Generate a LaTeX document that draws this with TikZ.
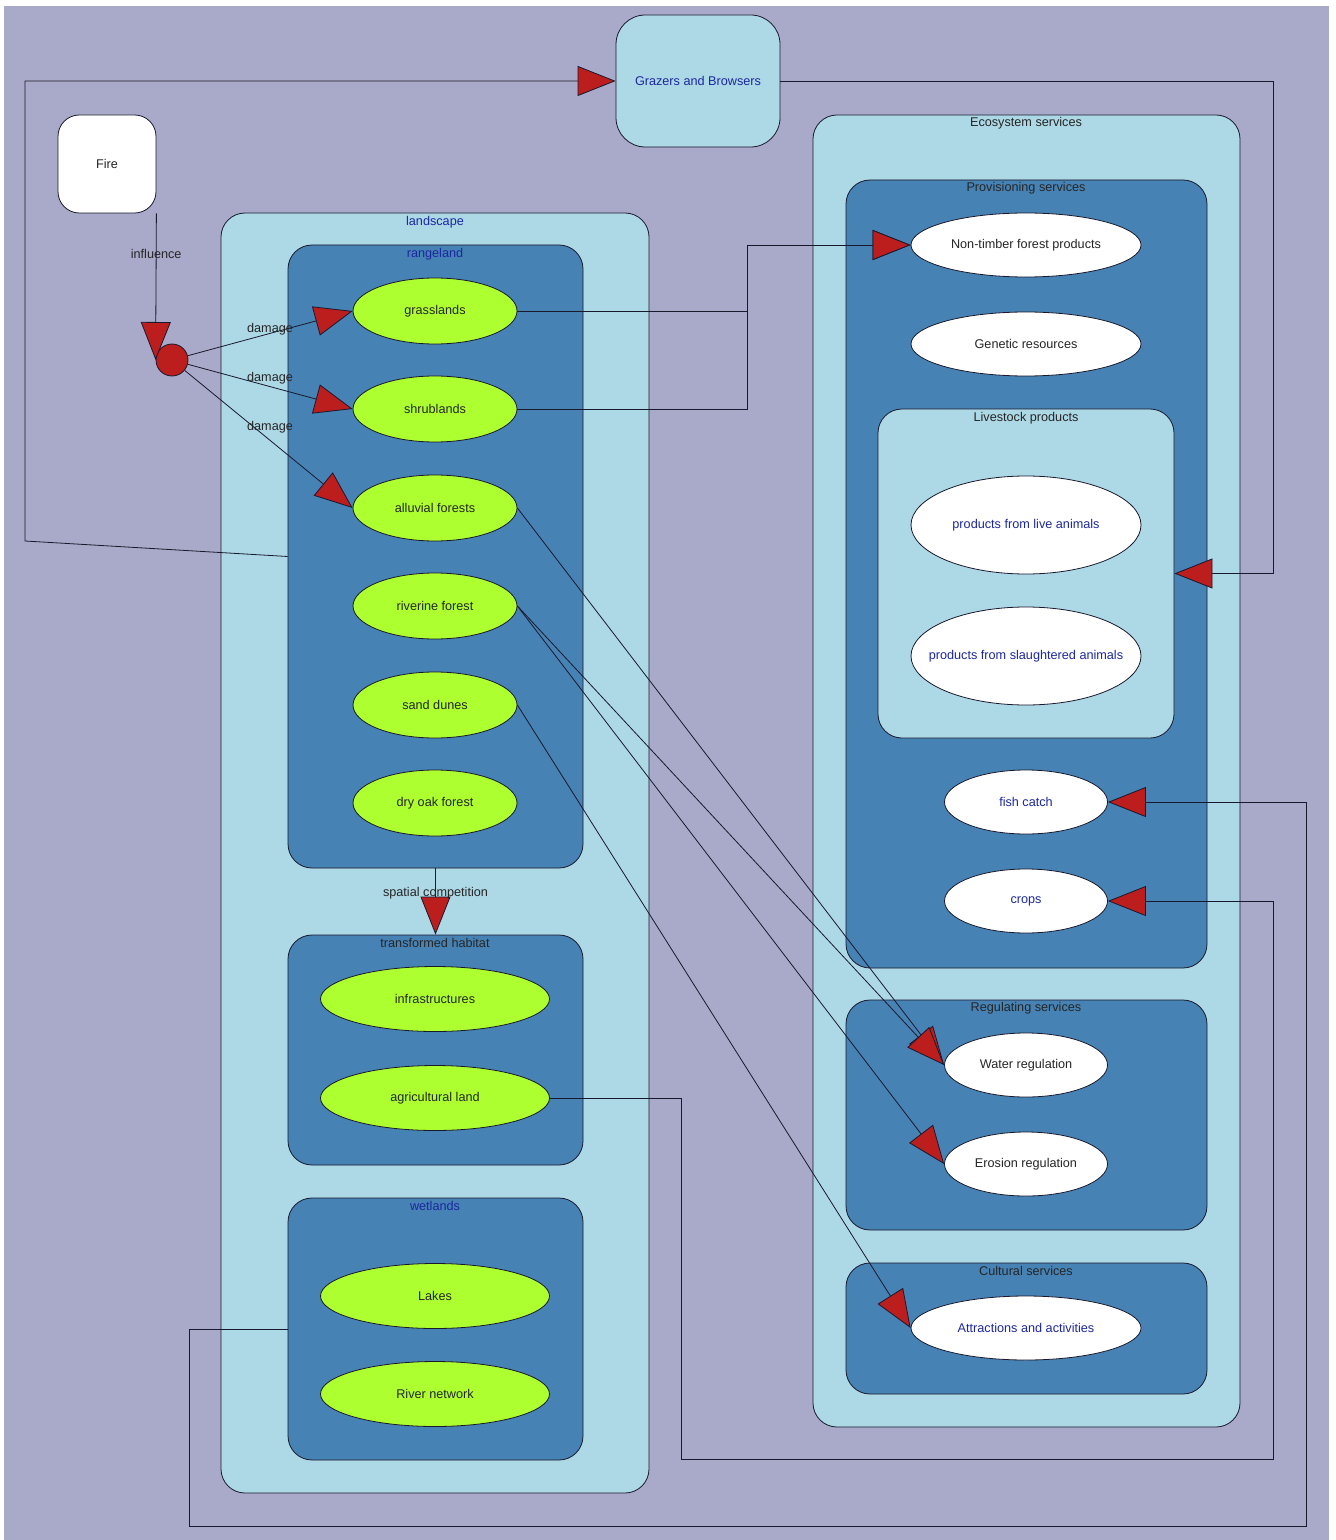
\documentclass[tikz,border=0pt]{standalone}
\usepackage{fontspec}
\setmainfont{Liberation Sans}
\usetikzlibrary{arrows.meta,shapes.geometric,fit}
\definecolor{bglav}{RGB}{169,169,201}
\definecolor{lblue}{RGB}{173,216,230}
\definecolor{steel}{RGB}{70,130,180}
\definecolor{gyell}{RGB}{173,255,47}
\definecolor{arrred}{RGB}{188,30,30}
\definecolor{tblue}{RGB}{28,40,160}
\definecolor{linec}{RGB}{25,25,45}
\begin{document}
\begin{tikzpicture}[x=0.75pt,y=-0.75pt,
  every node/.style={font=\fontsize{9.5}{11}\selectfont, text=black!85},
  box/.style={draw=linec, line width=0.6pt, rounded corners=18pt, inner sep=0pt},
  outerbox/.style={box, fill=lblue},
  innerbox/.style={box, fill=steel},
  ell/.style={ellipse, draw=linec, line width=0.6pt, inner sep=0pt},
  gell/.style={ell, fill=gyell},
  well/.style={ell, fill=white},
  rsize/.style={minimum width=123pt, minimum height=49.5pt},
  wsize/.style={minimum width=171.75pt, minimum height=48.75pt},
  bsize/.style={minimum width=172.5pt, minimum height=48pt},
  tsize/.style={minimum width=172.5pt, minimum height=73.5pt},
  ssize/.style={minimum width=122.25pt, minimum height=48pt},
  bt/.style={text=tblue},
  conn/.style={draw=linec, line width=0.6pt},
  arr/.style={conn, -{Triangle[width=22.5pt,length=28.5pt,fill=arrred]}}]
\useasboundingbox (0,0) rectangle (1335,1540);
\fill[white] (0,0) rectangle (1335,1540);
\fill[bglav] (4,6) rectangle (1329,1540);

% containers
\node[outerbox, fit={(221,213)(649,1493)}] (landscape) {};
\node[innerbox, fit={(288,245)(583,868)}] (rangeland) {};
\node[innerbox, fit={(288,935)(583,1165)}] (transformed) {};
\node[innerbox, fit={(288,1198)(583,1460)}] (wetlands) {};
\node[outerbox, fit={(813,115)(1240,1427)}] (ecosys) {};
\node[innerbox, fit={(846,180)(1207,968)}] (prov) {};
\node[outerbox, fit={(878,409)(1174,738)}] (livestock) {};
\node[innerbox, fit={(846,1000)(1207,1230)}] (regul) {};
\node[innerbox, fit={(846,1263)(1207,1394)}] (cult) {};

% container titles
\node[bt] (landscape-t) at (435,222) {landscape};
\node[bt] (rangeland-t) at (435,254) {rangeland};
\node (transformed-t) at (435,943) {transformed habitat};
\node[bt] (wetlands-t) at (435,1206) {wetlands};
\node (ecosys-t) at (1026,123) {Ecosystem services};
\node (prov-t) at (1026,188) {Provisioning services};
\node (livestock-t) at (1026,418) {Livestock products};
\node (regul-t) at (1026,1008) {Regulating services};
\node (cult-t) at (1026,1271) {Cultural services};

% standalone nodes
\node[draw=linec, line width=0.6pt, fill=white, rounded corners=16pt, minimum width=73.5pt, minimum height=73.5pt, inner sep=0pt] (fire) at (107,164) {Fire};
\node[draw=linec, line width=0.6pt, fill=lblue, rounded corners=22pt, minimum width=123pt, minimum height=99pt, inner sep=0pt, bt] (grazers) at (698,81) {Grazers and Browsers};
\node[circle, draw=linec, line width=0.6pt, fill=arrred, minimum size=24pt, inner sep=0pt] (junc) at (172,360) {};

% landscape ellipses
\node[gell, rsize] (grass) at (435,311) {grasslands};
\node[gell, rsize] (shrub) at (435,409) {shrublands};
\node[gell, rsize] (alluv) at (435,508) {alluvial forests};
\node[gell, rsize] (river) at (435,606) {riverine forest};
\node[gell, rsize] (sand) at (435,705) {sand dunes};
\node[gell, rsize] (oak) at (435,803) {dry oak forest};
\node[gell, wsize] (infra) at (435,999) {infrastructures};
\node[gell, wsize] (agri) at (435,1098) {agricultural land};
\node[gell, wsize] (lakes) at (435,1296) {Lakes};
\node[gell, wsize] (rivnet) at (435,1394) {River network};

% ecosystem service ellipses
\node[well, bsize] (ntfp) at (1026,245) {Non-timber forest products};
\node[well, bsize] (genet) at (1026,344) {Genetic resources};
\node[well, tsize, bt] (live) at (1026,525) {products from live animals};
\node[well, tsize, bt, inner xsep=-20pt] (slaught) at (1026,656) {products from slaughtered animals};
\node[well, ssize, bt] (fish) at (1026,802) {fish catch};
\node[well, ssize, bt] (crops) at (1026,901) {crops};
\node[well, ssize] (water) at (1026,1065) {Water regulation};
\node[well, ssize] (eros) at (1026,1164) {Erosion regulation};
\node[well, bsize, bt] (attr) at (1026,1328) {Attractions and activities};

% connectors
\draw[arr] (fire.south east) -- node[pos=0.28] (influence-l) {influence} (junc.west);
\draw[arr] (junc) -- (grass.west);
\draw[arr] (junc) -- (shrub.west);
\draw[arr] (junc) -- (alluv.west);
\node (dmg1) at (270,329) {damage};
\node (dmg2) at (270,378) {damage};
\node (dmg3) at (270,427) {damage};
\draw[arr] (grass.east) -- ++(230,0) |- (ntfp.west);
\draw[arr] (shrub.east) -- ++(230,0) |- (ntfp.west);
\draw[arr] (rangeland.west) -- (25,541) |- (grazers.west);
\draw[arr] (grazers.east) -- (1273,81) |- (livestock.east);
\draw[arr] (alluv.east) -- (water.west);
\draw[arr] (river.east) -- (water.west);
\draw[arr] (river.east) -- (eros.west);
\draw[arr] (sand.east) -- (attr.west);
\draw[arr] (rangeland.south) -- node[pos=0.37] (spatial-l) {spatial competition} (transformed.north);
\draw[arr] (agri.east) -- ++(131,0) |- (1273,1459) |- (crops.east);
\draw[arr] (wetlands.west) -- ++(-98,0) |- (1306,1526) |- (fish.east);
\end{tikzpicture}
\end{document}
